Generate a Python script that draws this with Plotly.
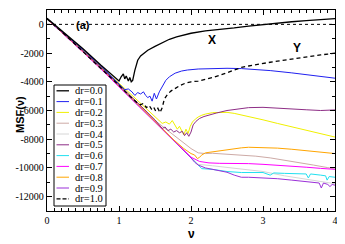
import plotly.graph_objects as go

labels = ["dr=0.0", "dr=0.1", "dr=0.2", "dr=0.3", "dr=0.4", "dr=0.5",
          "dr=0.6", "dr=0.7", "dr=0.8", "dr=0.9", "dr=1.0"]
colors = ["#000000", "#2020F0", "#F0F000", "#CDAAA6", "#D6D6D6", "#8E2E86",
          "#22E0F0", "#FF00FF", "#FFA500", "#9B30D8", "#000000"]

v00 = [0, 0.25, 0.5, 0.75, 0.9, 0.96, 1.0, 1.03, 1.06, 1.08, 1.1, 1.13, 1.15, 1.17, 1.19, 1.22,
       1.26, 1.3, 1.35, 1.4, 1.5, 1.6, 1.7, 1.8, 1.9, 2.0, 2.2, 2.4, 2.6, 2.8, 3.0, 3.2, 3.4, 3.6, 3.8, 4.0]
m00 = [420, -620, -1700, -2850, -3500, -3750, -3950, -3650, -3450, -3800, -3600, -3950, -3700, -4000, -3900, -3200,
       -2500, -2200, -2000, -1800, -1530, -1270, -1040, -880, -730, -620, -450, -360, -250, -120, -10, 90, 180, 260, 330, 400]

v01 = [0, 0.25, 0.5, 0.75, 0.95, 1.02, 1.08, 1.13, 1.18, 1.22, 1.26, 1.3, 1.34, 1.37, 1.4, 1.43, 1.46, 1.49,
       1.52, 1.56, 1.6, 1.65, 1.7, 1.78, 1.87, 1.95, 2.1, 2.3, 2.5, 2.7, 2.9, 3.1, 3.4, 3.7, 4.0]
m01 = [410, -650, -1760, -2920, -3900, -4300, -4550, -4500, -4700, -4950, -4750, -4850, -4700, -4950, -5100, -5000, -5350, -4800,
       -5200, -4700, -4300, -3900, -3650, -3400, -3250, -3180, -3110, -3070, -3060, -3080, -3130, -3220, -3380, -3560, -3750]

v02 = [0, 0.25, 0.5, 0.75, 1.0, 1.25, 1.5, 1.6, 1.65, 1.7, 1.74, 1.78, 1.81, 1.84, 1.87, 1.9, 1.93, 1.96, 1.99,
       2.02, 2.06, 2.1, 2.15, 2.2, 2.3, 2.4, 2.5, 2.6, 2.7, 2.8, 3.0, 3.2, 3.4, 3.6, 3.8, 4.0]
m02 = [400, -660, -1780, -2930, -4100, -5300, -6500, -6900, -6800, -6950, -6700, -7000, -7300, -7100, -7400, -7700, -7300, -7600, -7100,
       -6800, -6600, -6450, -6330, -6250, -6150, -6120, -6130, -6200, -6300, -6420, -6650, -6900, -7150, -7400, -7620, -7850]

v03 = [0, 0.25, 0.5, 0.75, 1.0, 1.25, 1.5, 1.6, 1.7, 1.8, 1.9, 2.0, 2.1, 2.2, 2.3, 2.5, 2.7, 2.9, 3.1, 3.3, 3.5, 3.7, 3.9, 4.0]
m03 = [390, -710, -1860, -3010, -4200, -5450, -6700, -7100, -7450, -7850, -8250, -8650, -8950, -9000, -8980, -9030, -9100, -9180,
       -9300, -9450, -9620, -9800, -9980, -10080]

v04 = [0, 0.25, 0.5, 0.75, 1.0, 1.25, 1.5, 1.75, 2.0, 2.1, 2.3, 2.5, 2.7, 3.0, 3.3, 3.6, 4.0]
m04 = [385, -715, -1870, -3030, -4230, -5490, -6740, -7990, -9250, -9750, -9850, -9950, -10050, -10250, -10550, -10800, -11100]

v05 = [0, 0.25, 0.5, 0.75, 1.0, 1.25, 1.5, 1.56, 1.6, 1.64, 1.68, 1.72, 1.76, 1.8, 1.84, 1.88, 1.91, 1.94, 1.97,
       2.0, 2.03, 2.07, 2.12, 2.18, 2.26, 2.35, 2.5, 2.65, 2.8, 3.0, 3.2, 3.4, 3.6, 3.8, 4.0]
m05 = [390, -700, -1840, -2990, -4180, -5420, -6650, -7000, -7250, -7150, -7400, -7300, -7500, -7400, -7550, -7450, -7750, -7550, -7800,
       -7500, -7000, -6750, -6550, -6420, -6300, -6180, -6000, -5880, -5800, -5780, -5850, -5900, -5950, -6000, -5960]

v06 = [0, 0.25, 0.5, 0.75, 1.0, 1.25, 1.5, 1.75, 1.85, 2.0, 2.1, 2.15, 2.3, 2.5, 2.7, 2.9, 3.0, 3.1, 3.15, 3.3, 3.5,
       3.6, 3.63, 3.66, 3.8, 3.87, 3.89, 3.92, 4.0]
m06 = [380, -730, -1900, -3060, -4280, -5540, -6800, -8050, -8540, -9350, -9850, -10050, -10100, -10250, -10320, -10300, -10320,
       -10500, -10350, -10380, -10400, -10420, -10700, -10420, -10500, -10550, -10850, -10600, -10650]

v07 = [0, 0.25, 0.5, 0.75, 1.0, 1.25, 1.5, 1.75, 2.0, 2.12, 2.17, 2.25, 2.4, 2.6, 2.8, 3.0, 3.2, 3.4, 3.6, 3.8, 4.0]
m07 = [370, -750, -1930, -3120, -4350, -5600, -6850, -8070, -9250, -9550, -9600, -9650, -9680, -9680, -9700, -9750, -9800,
       -9870, -9950, -10030, -10100]

v08 = [0, 0.25, 0.5, 0.75, 1.0, 1.25, 1.5, 1.75, 1.9, 2.0, 2.05, 2.09, 2.12, 2.15, 2.2, 2.3, 2.4, 2.5, 2.6, 2.7, 2.8,
       2.9, 3.0, 3.2, 3.4, 3.6, 3.8, 4.0]
m08 = [380, -720, -1880, -3040, -4240, -5500, -6760, -8000, -8650, -9000, -9100, -9350, -9250, -9100, -8950, -8880, -8780,
       -8700, -8640, -8600, -8560, -8570, -8560, -8620, -8700, -8800, -8900, -9000]

v09 = [0, 0.25, 0.5, 0.75, 1.0, 1.25, 1.5, 1.75, 2.0, 2.05, 2.1, 2.2, 2.3, 2.4, 2.5, 2.6, 2.7, 2.8, 3.0, 3.2, 3.4,
       3.6, 3.7, 3.78, 3.81, 3.84, 3.9, 3.93, 3.96, 4.0]
m09 = [375, -740, -1920, -3090, -4320, -5570, -6830, -8060, -9300, -9600, -9800, -10000, -10100, -10200, -10300, -10500,
       -10650, -10650, -10680, -10750, -10850, -10950, -11000, -11050, -11400, -11050, -11150, -11300, -11150, -11200]

v10 = [0, 0.25, 0.5, 0.75, 1.0, 1.15, 1.25, 1.3, 1.34, 1.38, 1.42, 1.45, 1.48, 1.51, 1.54, 1.57, 1.6, 1.63, 1.67,
       1.72, 1.78, 1.85, 1.92, 2.0, 2.1, 2.2, 2.3, 2.4, 2.5, 2.6, 2.7, 2.8, 2.9, 3.0, 3.1, 3.2, 3.3, 3.4, 3.5,
       3.6, 3.7, 3.8, 3.9, 4.0]
m10 = [380, -720, -1900, -3050, -4250, -5000, -5450, -5600, -5500, -5800, -5650, -5900, -5750, -6050, -5850, -6150, -5800,
       -5200, -4900, -4650, -4450, -4250, -4100, -4000, -3950, -3850, -3700, -3550, -3350, -3150, -3000, -2900, -2800,
       -2720, -2640, -2560, -2480, -2400, -2330, -2260, -2200, -2130, -2070, -2000]

xs = [v00, v01, v02, v03, v04, v05, v06, v07, v08, v09, v10]
ys = [m00, m01, m02, m03, m04, m05, m06, m07, m08, m09, m10]

xtick_vals = [0, 1, 2, 3, 4]
xtick_text = ["0", "1", "2", "3", "4"]
ytick_vals = [-12000, -10000, -8000, -6000, -4000, -2000, 0]
ytick_text = ["-12000", "-10000", "-8000", "-6000", "-4000", "-2000", "0"]

# The page body has an 8px default margin, so the figure is drawn 8px smaller
OFF = 8
PAGE_W, PAGE_H = 345, 244
PL, PR, PT, PB = 47, 335, 10, 211          # plot area in page pixels
W, H = PAGE_W - OFF, PAGE_H - OFF
L, T = PL - OFF, PT - OFF
R, B = PAGE_W - PR, PAGE_H - PB
PW, PH = PR - PL, PB - PT

def px(xp):
    return (xp - PL) / PW

def py(yp):
    return (PB - yp) / PH

fig = go.Figure()
draw_order = [4, 3, 6, 9, 7, 8, 2, 5, 1, 10, 0]
for i in draw_order:
    dash = "4px,3px" if i == 10 else "solid"
    width = 1.3 if i in (0, 10) else 1.0
    fig.add_trace(go.Scatter(x=xs[i], y=ys[i], mode="lines", name=labels[i],
                             line=dict(color=colors[i], width=width, dash=dash),
                             showlegend=False))

shapes = [dict(type="line", xref="paper", yref="y", x0=0, x1=1, y0=0, y1=0,
               line=dict(color="black", width=1, dash="dot"))]
annotations = []

# legend box
shapes.append(dict(type="rect", xref="paper", yref="paper", x0=px(54), x1=px(106),
                   y0=py(206), y1=py(85), line=dict(color="black", width=1),
                   fillcolor="white", layer="above"))
for i, lab in enumerate(labels):
    yp = 90.8 + i * 10.8
    shapes.append(dict(type="line", xref="paper", yref="paper", x0=px(56.5), x1=px(69),
                       y0=py(yp), y1=py(yp), layer="above",
                       line=dict(color=colors[i], width=1.3 if i in (0, 10) else 1.0,
                                 dash="4px,2px" if i == 10 else "solid")))
    annotations.append(dict(xref="paper", yref="paper", x=px(73), y=py(yp), text=lab,
                            showarrow=False, xanchor="left", yanchor="middle",
                            font=dict(family="Liberation Serif", size=10.5, color="black")))

bold = dict(family="Liberation Sans", size=12, color="black")
annotations += [
    dict(xref="paper", yref="paper", x=px(74), y=py(17), text="<b>(a)</b>", showarrow=False,
         font=dict(family="Liberation Sans", size=11, color="black")),
    dict(xref="x", yref="y", x=2.29, y=-1100, text="<b>X</b>", showarrow=False, font=bold),
    dict(xref="x", yref="y", x=3.47, y=-1650, text="<b>Y</b>", showarrow=False, font=bold),
    dict(xref="paper", yref="paper", x=px(12), y=py(115), text="<b>MSF(ν)</b>", showarrow=False,
         textangle=-90, font=dict(family="Liberation Sans", size=11, color="black")),
    dict(xref="paper", yref="paper", x=px(191), y=py(243), text="<b>ν</b>", showarrow=False,
         xanchor="center", yanchor="bottom",
         font=dict(family="Liberation Sans", size=12, color="black")),
]

axis_common = dict(showline=True, linecolor="black", linewidth=1.3, mirror="allticks",
                   ticks="inside", ticklen=5, tickwidth=1, tickcolor="black",
                   showgrid=False, zeroline=False, automargin=False,
                   tickfont=dict(family="Liberation Serif", size=10, color="black"))

fig.update_layout(
    width=W, height=H, margin=dict(l=L, r=R, t=T, b=B, autoexpand=False),
    paper_bgcolor="white", plot_bgcolor="white",
    shapes=shapes, annotations=annotations,
    xaxis=dict(range=[0, 4], tickvals=xtick_vals, ticktext=xtick_text,
               minor=dict(ticks="inside", ticklen=3, dtick=0.1, tickcolor="black", showgrid=False),
               **axis_common),
    yaxis=dict(range=[-13000, 1000], tickvals=ytick_vals, ticktext=ytick_text,
               minor=dict(ticks="inside", ticklen=3, dtick=1000, tickcolor="black", showgrid=False),
               **axis_common),
)

fig.write_html("out.html")
